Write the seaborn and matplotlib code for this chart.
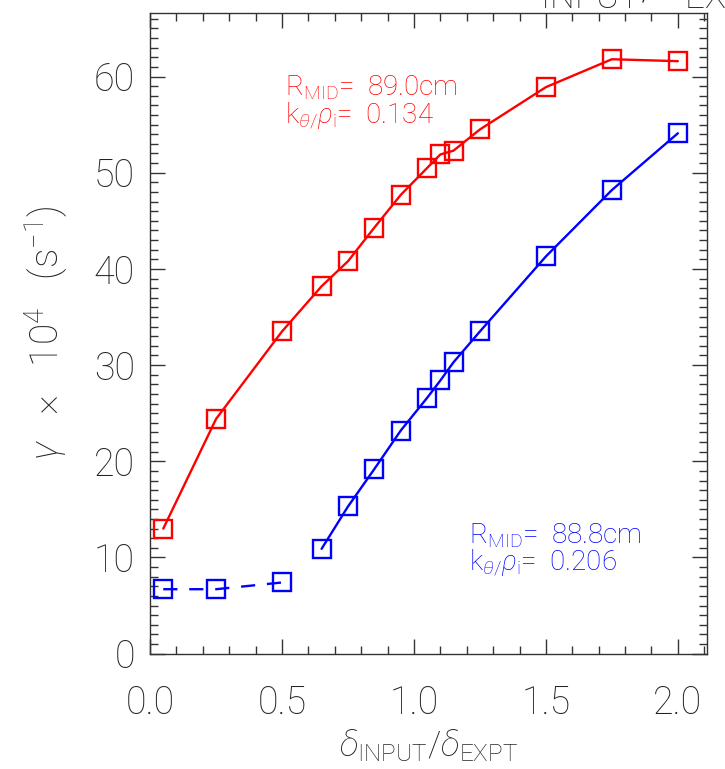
import matplotlib
matplotlib.use('Agg')
import matplotlib.pyplot as plt
import seaborn as sns
import pandas as pd
import numpy as np
from matplotlib.ticker import MultipleLocator, FormatStrFormatter

# delta_input / delta_expt scan
x_red = [0.05, 0.25, 0.5, 0.65, 0.75, 0.85, 0.95, 1.05, 1.1, 1.15, 1.25, 1.5, 1.75, 2.0]
gamma_red = [13.0, 24.4, 33.5, 38.2, 40.8, 44.3, 47.7, 50.5, 51.9, 52.3, 54.5, 58.9, 61.8, 61.6]

x_blue_low = [0.05, 0.25, 0.5]
gamma_blue_low = [6.7, 6.7, 7.4]
x_blue = [0.65, 0.75, 0.85, 0.95, 1.05, 1.1, 1.15, 1.25, 1.5, 1.75, 2.0]
gamma_blue = [10.9, 15.3, 19.2, 23.2, 26.6, 28.4, 30.3, 33.5, 41.3, 48.2, 54.1]

sns.set_theme(style='ticks')
plt.rcParams['font.family'] = ['Roboto', 'DejaVu Sans']
plt.rcParams['font.weight'] = 'light'
plt.rcParams['axes.labelweight'] = 'light'
plt.rcParams['mathtext.fontset'] = 'custom'
plt.rcParams['mathtext.rm'] = 'Roboto:light'
plt.rcParams['mathtext.it'] = 'Roboto:italic:light'

fig = plt.figure(figsize=(7.25, 7.69), dpi=100)
ax = fig.add_axes([0.207, 0.150, 0.768, 0.833])

mk = dict(marker='s', markersize=12.5, markerfacecolor='none', markeredgewidth=1.7)

df_red = pd.DataFrame({'x': x_red, 'g': gamma_red})
df_bl = pd.DataFrame({'x': x_blue_low, 'g': gamma_blue_low})
df_b = pd.DataFrame({'x': x_blue, 'g': gamma_blue})

sns.lineplot(data=df_red, x='x', y='g', ax=ax, color='#ff0000', lw=1.7,
             markeredgecolor='#ff0000', estimator=None, sort=False, **mk)
sns.lineplot(data=df_bl, x='x', y='g', ax=ax, color='#0000ff', lw=1.7,
             markeredgecolor='#0000ff', estimator=None, sort=False,
             dashes=False, linestyle=(0, (6, 5)), **mk)
sns.lineplot(data=df_b, x='x', y='g', ax=ax, color='#0000ff', lw=1.7,
             markeredgecolor='#0000ff', estimator=None, sort=False, **mk)

ax.set_xlim(0, 2.11)
ax.set_ylim(0, 66.6)
ax.xaxis.set_major_locator(MultipleLocator(0.5))
ax.xaxis.set_minor_locator(MultipleLocator(0.1))
ax.yaxis.set_major_locator(MultipleLocator(10))
ax.yaxis.set_minor_locator(MultipleLocator(1))
ax.xaxis.set_major_formatter(FormatStrFormatter('%.1f'))

for s in ax.spines.values():
    s.set_color('#333333')
    s.set_linewidth(1.0)

ax.tick_params(which='both', direction='in', top=True, right=True,
               color='#333333', width=1.0)
ax.tick_params(which='major', length=11, labelsize=27, labelcolor='#222222')
ax.tick_params(which='minor', length=6)
ax.tick_params(axis='x', which='major', pad=22)
ax.tick_params(axis='y', which='major', pad=11)

ax.set_xlabel(r'$\delta_{\rm INPUT}/\delta_{\rm EXPT}$', fontsize=25,
              color='#222222', labelpad=4, fontweight='light')
ax.set_ylabel(r'$\gamma$   $\times$   10$^4$   (s$^{-1}$)', fontsize=28,
              color='#222222', labelpad=16, fontweight='light')

ax.text(0.51, 58.0, r'R$_{\rm MID}$=  89.0cm', color='#ff0000', fontsize=20)
ax.text(0.51, 55.2, r'k$_{\theta/}\rho_{\rm i}$=  0.134', color='#ff0000', fontsize=20)
ax.text(1.21, 11.5, r'R$_{\rm MID}$=  88.8cm', color='#0000ff', fontsize=20)
ax.text(1.21, 8.7, r'k$_{\theta/}\rho_{\rm i}$=  0.206', color='#0000ff', fontsize=20)

# clipped label at top of the panel
fig.text(0.745, 0.999, r'$_{\rm INPUT}$/  $_{\rm EXPT}$', fontsize=36,
         color='#222222', va='baseline', ha='left')

fig.savefig('out.png', dpi=100)
